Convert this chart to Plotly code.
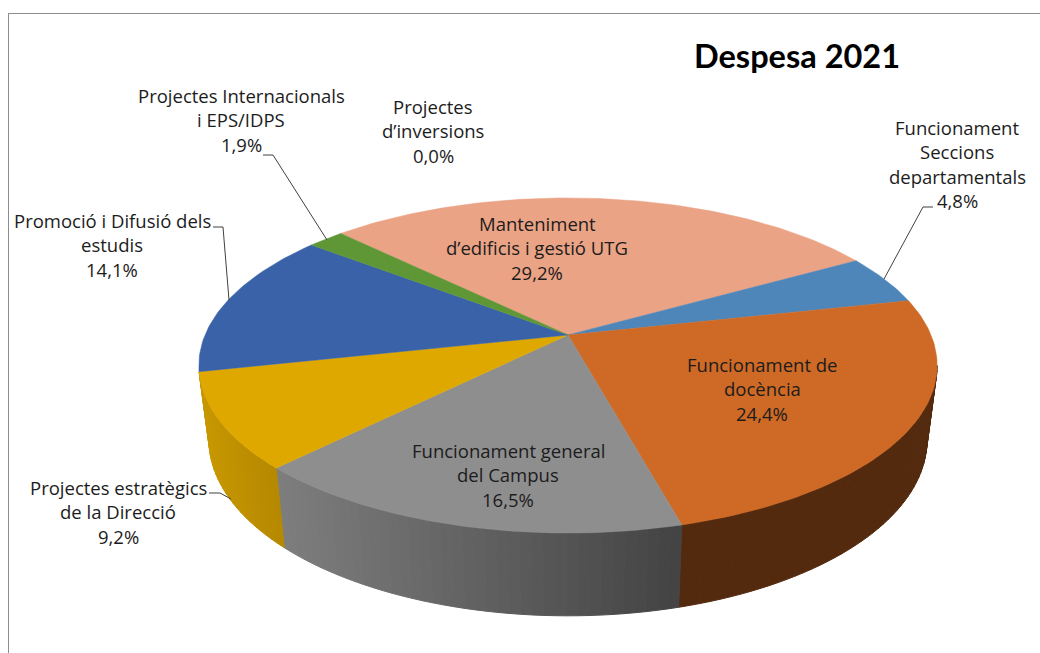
import math
import plotly.graph_objects as go

# ---- data ----
categories = [
    "Manteniment d’edificis i gestió UTG",
    "Funcionament Seccions departamentals",
    "Funcionament de docència",
    "Funcionament general del Campus",
    "Projectes estratègics de la Direcció",
    "Promoció i Difusió dels estudis",
    "Projectes Internacionals i EPS/IDPS",
    "Projectes d’inversions",
]
values = [29.2, 4.8, 24.4, 16.5, 9.2, 14.1, 1.9, 0.0]
top_colors = ["#EBA385", "#4F86BA", "#CE6A26", "#8E8E8E", "#DFA800", "#3A62A8", "#5F9737", "#7F7F7F"]
label_lines = [
    ["Manteniment", "d’edificis i gestió UTG"],
    ["Funcionament", "Seccions", "departamentals"],
    ["Funcionament de", "docència"],
    ["Funcionament general", "del Campus"],
    ["Projectes estratègics", "de la Direcció"],
    ["Promoció i Difusió dels", "estudis"],
    ["Projectes Internacionals", "i EPS/IDPS"],
    ["Projectes", "d’inversions"],
]
title_text = "Despesa 2021"

# ---- layout of the labels (pixel space) ----
label_x = [537, 957, 762, 508, 118, 112, 241, 433]
label_y0 = [223, 127, 364, 450, 487, 220, 95, 106]
LINE_STEP = 24.5
leaders = {
    1: [(933, 207), (923, 207), (884, 279)],
    4: [(209, 493), (220, 493), (231, 499)],
    5: [(213, 227), (223, 227), (229, 300)],
    6: [(263, 155), (273, 155), (327, 240)],
}

# ---- perspective disc ----
CX = 568
TOP = dict(cy=335, R=363, B=162)
BOT = dict(cy=408, R=353, B=170)
K = 0.182
START = -45.0


def project(theta_deg, plane):
    t = math.radians(theta_deg)
    u, v = math.sin(t), -math.cos(t)
    s = 1 / (1 - K * v)
    return CX + plane["R"] * u * s, plane["cy"] + plane["B"] * v * s


total = sum(values)
edges = [START]
for val in values:
    edges.append(edges[-1] + 360 * val / total)


def mix(c1, c2, f):
    a = [int(c1[i:i + 2], 16) for i in (1, 3, 5)]
    b = [int(c2[i:i + 2], 16) for i in (1, 3, 5)]
    return "rgb(%d,%d,%d)" % tuple(round(p + (q - p) * f) for p, q in zip(a, b))


# side wall shading: colour at the left and right end of each visible wall, by x position
wall = {
    2: ("#542A0F", "#542A0F"),
    3: ("#7E7E7E", "#434343"),
    4: ("#C89700", "#B58800"),
}
fig = go.Figure()
VIS_A, VIS_B = 100.5, 259.5
for idx, (c_left, c_right) in wall.items():
    a0 = max(edges[idx], VIS_A)
    a1 = min(edges[idx + 1], VIS_B)
    n = max(2, int((a1 - a0) / 1.5))
    xs_all = [project(a0 + (a1 - a0) * j / n, TOP)[0] for j in range(n + 1)]
    xmin, xmax = min(xs_all), max(xs_all)
    for j in range(n):
        p = a0 + (a1 - a0) * j / n
        q = a0 + (a1 - a0) * (j + 1) / n
        t1, t2 = project(p, TOP), project(q, TOP)
        b1, b2 = project(p, BOT), project(q, BOT)
        f = ((t1[0] + t2[0]) / 2 - xmin) / (xmax - xmin)
        col = mix(c_left, c_right, f)
        fig.add_trace(go.Scatter(
            x=[t1[0], t2[0], b2[0], b1[0], t1[0]],
            y=[t1[1], t2[1], b2[1], b1[1], t1[1]],
            mode="lines", fill="toself", fillcolor=col,
            line=dict(color=col, width=1), hoverinfo="skip", showlegend=False))

# top faces
for i, name in enumerate(categories):
    if values[i] <= 0:
        continue
    a0, a1 = edges[i], edges[i + 1]
    n = max(4, int((a1 - a0) / 1.0))
    pts = [project(a0 + (a1 - a0) * j / n, TOP) for j in range(n + 1)]
    xs = [CX] + [p[0] for p in pts] + [CX]
    ys = [TOP["cy"]] + [p[1] for p in pts] + [TOP["cy"]]
    fig.add_trace(go.Scatter(x=xs, y=ys, mode="lines", fill="toself", fillcolor=top_colors[i],
                             line=dict(color=top_colors[i], width=0.5), name=name,
                             text=f"{name}: {values[i]:.1f}%", hoverinfo="text", showlegend=False))

# leader lines
for i, pts in leaders.items():
    fig.add_trace(go.Scatter(x=[p[0] for p in pts], y=[p[1] for p in pts], mode="lines",
                             line=dict(color="#404040", width=1), hoverinfo="skip", showlegend=False))

annotations = []
FONT = "Open Sans, Lato, sans-serif"
for i, lines in enumerate(label_lines):
    texts = lines + [f"{values[i]:.1f}".replace(".", ",") + "%"]
    for j, line in enumerate(texts):
        annotations.append(dict(x=label_x[i], y=label_y0[i] + j * LINE_STEP, text=line, showarrow=False,
                                xanchor="center", yanchor="middle", xref="x", yref="y",
                                font=dict(family=FONT, size=18.5, color="#1c1c1c")))
annotations.append(dict(x=797, y=55.5, text=f"<b>{title_text}</b>", showarrow=False, xanchor="center",
                        yanchor="middle", xref="x", yref="y",
                        font=dict(family="Lato, sans-serif", size=32.5, color="#000000")))

shapes = [
    dict(type="line", x0=8, x1=1040, y0=13.5, y1=13.5, xref="x", yref="y", line=dict(color="#8C8C8C", width=1)),
    dict(type="line", x0=8.5, x1=8.5, y0=13, y1=653, xref="x", yref="y", line=dict(color="#8C8C8C", width=1)),
]

fig.update_layout(
    width=1040, height=653, margin=dict(l=0, r=0, t=0, b=0),
    paper_bgcolor="white", plot_bgcolor="white", showlegend=False,
    xaxis=dict(range=[0, 1040], visible=False, fixedrange=True),
    yaxis=dict(range=[653, 0], visible=False, fixedrange=True),
    annotations=annotations, shapes=shapes,
)
fig.write_html("out.html", config={"displayModeBar": False},
               post_script="document.body.style.margin='0';document.body.style.overflow='hidden';")
